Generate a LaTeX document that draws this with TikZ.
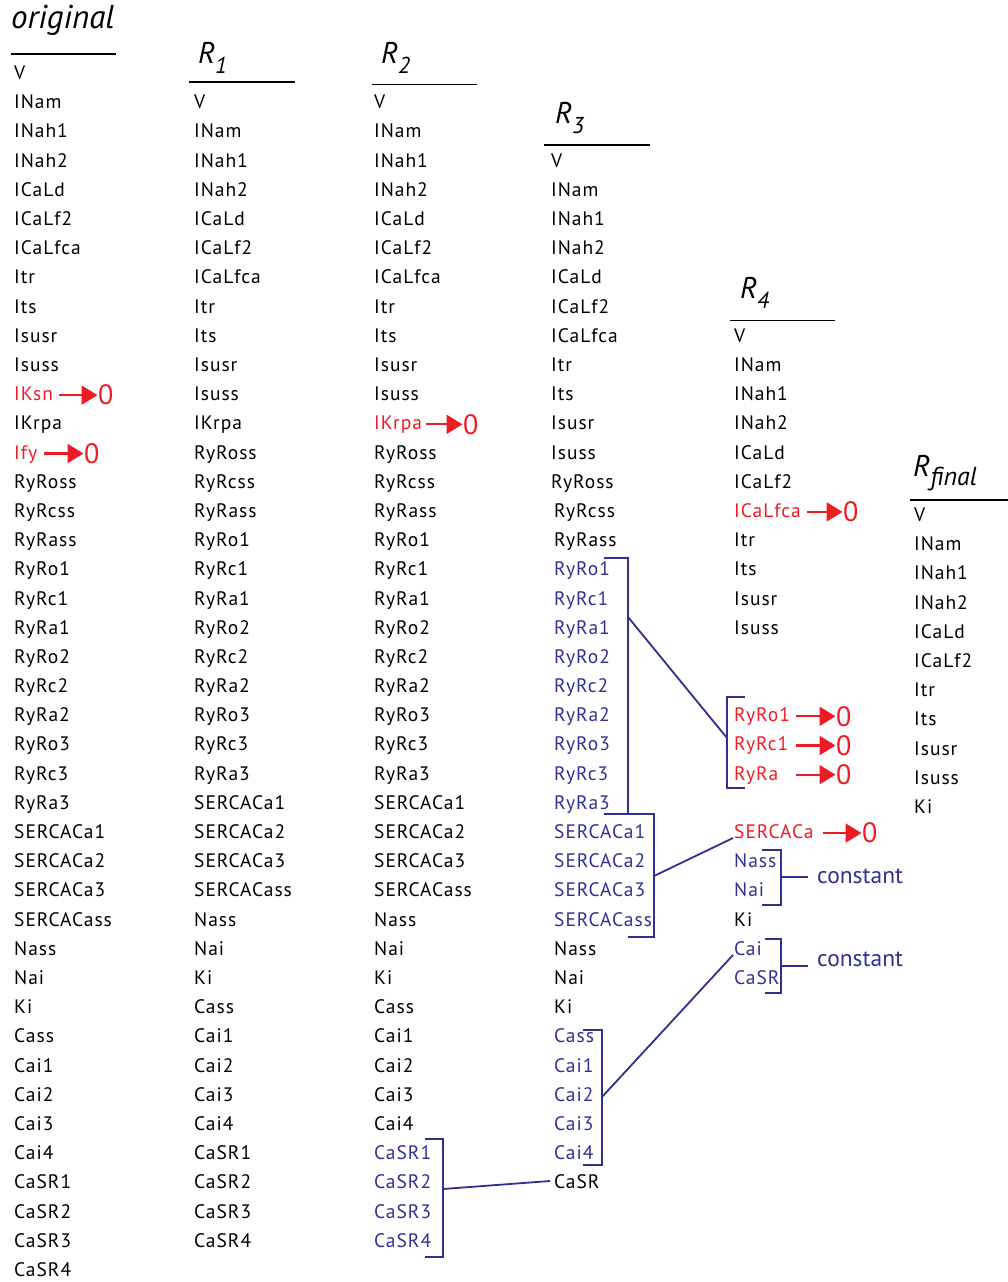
\documentclass[tikz,border=0pt]{standalone}
\usepackage{fontspec}
\setmainfont{PT Sans}
\newfontfamily\itemfont[LetterSpace=5]{PT Sans}
\usetikzlibrary{arrows.meta,calc}
\definecolor{myred}{RGB}{237,28,36}
\definecolor{myblue}{RGB}{46,49,146}
\tikzset{
  item/.style={anchor=base west, inner sep=0pt, font=\itemfont\fontsize{19.5}{21}\selectfont},
  hdr/.style={anchor=base west, inner sep=0pt, font=\fontsize{30}{32}\selectfont\itshape},
  hline/.style={line width=1.8pt},
  brk/.style={myblue, line width=1.8pt},
  zarrow/.style={myred, line width=2.2pt, -{Triangle[length=16pt,width=19pt]}},
  zero/.style={anchor=west, inner sep=0pt, text=myred, font=\fontsize{28}{30}\selectfont},
  cst/.style={anchor=base west, inner sep=0pt, text=myblue, font=\fontsize{23.5}{25}\selectfont},
}
\newcommand{\subhdr}[3]{\raisebox{-#1pt}{\fontsize{#3}{25}\selectfont\itshape #2}}
\begin{document}
\begin{tikzpicture}[x=1pt,y=-1pt]
\useasboundingbox (0,0) rectangle (1008,1282);

% headers
\node[hdr,font=\fontsize{33}{35}\selectfont\itshape] (hO) at (11,28) {original};
\draw[hline] (11,54) -- (116,54);
\node[hdr] (h1) at (198,63) {R\subhdr{10}{1}{23}};
\draw[hline] (189,82) -- (295,82);
\node[hdr] (h2) at (381,63) {R\subhdr{10}{2}{23}};
\draw[hline] (372,84.5) -- (477,84.5);
\node[hdr] (h3) at (555,123) {R\subhdr{10}{3}{23}};
\draw[hline] (544,145) -- (650,145);
\node[hdr] (h4) at (740,298) {R\subhdr{10}{4}{23}};
\draw[hline] (730,320.5) -- (835,320.5);
\node[hdr] (hf) at (913,476) {R\subhdr{9}{final}{26}};
\draw[hline] (910,500) -- (1010,500);

% original
\foreach \t/\c [count=\i from 0] in {V/black,INam/black,INah1/black,INah2/black,ICaLd/black,ICaLf2/black,ICaLfca/black,Itr/black,Its/black,Isusr/black,Isuss/black,IKsn/myred,IKrpa/black,Ify/myred,RyRoss/black,RyRcss/black,RyRass/black,RyRo1/black,RyRc1/black,RyRa1/black,RyRo2/black,RyRc2/black,RyRa2/black,RyRo3/black,RyRc3/black,RyRa3/black,SERCACa1/black,SERCACa2/black,SERCACa3/black,SERCACass/black,Nass/black,Nai/black,Ki/black,Cass/black,Cai1/black,Cai2/black,Cai3/black,Cai4/black,CaSR1/black,CaSR2/black,CaSR3/black,CaSR4/black}
  \node[item,text=\c] (o\i) at (14,{79.5+\i*29.195}) {\t};

% R1
\foreach \t/\c [count=\i from 1] in {V/black,INam/black,INah1/black,INah2/black,ICaLd/black,ICaLf2/black,ICaLfca/black,Itr/black,Its/black,Isusr/black,Isuss/black,IKrpa/black,RyRoss/black,RyRcss/black,RyRass/black,RyRo1/black,RyRc1/black,RyRa1/black,RyRo2/black,RyRc2/black,RyRa2/black,RyRo3/black,RyRc3/black,RyRa3/black,SERCACa1/black,SERCACa2/black,SERCACa3/black,SERCACass/black,Nass/black,Nai/black,Ki/black,Cass/black,Cai1/black,Cai2/black,Cai3/black,Cai4/black,CaSR1/black,CaSR2/black,CaSR3/black,CaSR4/black}
  \node[item,text=\c] (a\i) at (194,{79.5+\i*29.195}) {\t};

% R2
\foreach \t/\c [count=\i from 1] in {V/black,INam/black,INah1/black,INah2/black,ICaLd/black,ICaLf2/black,ICaLfca/black,Itr/black,Its/black,Isusr/black,Isuss/black,IKrpa/myred,RyRoss/black,RyRcss/black,RyRass/black,RyRo1/black,RyRc1/black,RyRa1/black,RyRo2/black,RyRc2/black,RyRa2/black,RyRo3/black,RyRc3/black,RyRa3/black,SERCACa1/black,SERCACa2/black,SERCACa3/black,SERCACass/black,Nass/black,Nai/black,Ki/black,Cass/black,Cai1/black,Cai2/black,Cai3/black,Cai4/black,CaSR1/myblue,CaSR2/myblue,CaSR3/myblue,CaSR4/myblue}
  \node[item,text=\c] (b\i) at (374,{79.5+\i*29.195}) {\t};

% R3
\foreach \t/\c/\dx [count=\i from 3] in {V/black/0,INam/black/0,INah1/black/0,INah2/black/0,ICaLd/black/0,ICaLf2/black/0,ICaLfca/black/0,Itr/black/0,Its/black/0,Isusr/black/0,Isuss/black/0,RyRoss/black/0,RyRcss/black/3,RyRass/black/3,RyRo1/myblue/3,RyRc1/myblue/3,RyRa1/myblue/3,RyRo2/myblue/3,RyRc2/myblue/3,RyRa2/myblue/3,RyRo3/myblue/3,RyRc3/myblue/3,RyRa3/myblue/3,SERCACa1/myblue/3,SERCACa2/myblue/3,SERCACa3/myblue/3,SERCACass/myblue/3,Nass/black/3,Nai/black/3,Ki/black/3,Cass/myblue/3,Cai1/myblue/3,Cai2/myblue/3,Cai3/myblue/3,Cai4/myblue/3,CaSR/black/3}
  \node[item,text=\c] (c\i) at ({551+\dx},{79.5+\i*29.195}) {\t};

% R4
\foreach \t/\c [count=\i from 9] in {V/black,INam/black,INah1/black,INah2/black,ICaLd/black,ICaLf2/black,ICaLfca/myred,Itr/black,Its/black,Isusr/black,Isuss/black}
  \node[item,text=\c] (d\i) at (734,{79.5+\i*29.195}) {\t};
\foreach \r/\t/\c in {22/RyRo1/myred,23/RyRc1/myred,24/RyRa/myred,26/SERCACa/myred,27/Nass/myblue,28/Nai/myblue,29/Ki/black,30/Cai/myblue,31/CaSR/myblue}
  \node[item,text=\c] (d\r) at (734,{79.5+\r*29.195}) {\t};

% Rfinal
\foreach \t [count=\i from 0] in {V,INam,INah1,INah2,ICaLd,ICaLf2,Itr,Its,Isusr,Isuss,Ki}
  \node[item] (f\i) at (914,{521.5+\i*29.195}) {\t};

% zeros and arrows
\node[zero] (zo11) at (98,{74+11*29.195}) {0};
\node[zero] (zo13) at (84,{74+13*29.195}) {0};
\node[zero] (zb12) at (463,{74+12*29.195}) {0};
\node[zero] (zd15) at (843,{74+15*29.195}) {0};
\node[zero] (zd22) at (836,{74+22*29.195}) {0};
\node[zero] (zd23) at (836,{74+23*29.195}) {0};
\node[zero] (zd24) at (836,{74+24*29.195}) {0};
\node[zero] (zd26) at (862,{74+26*29.195}) {0};
\draw[zarrow] ($(zo11.west -| o11.east)+(6,0)$) -- ($(zo11.west)+(-0.5,0)$);
\draw[zarrow] ($(zo13.west -| o13.east)+(7,0)$) -- ($(zo13.west)+(-0.5,0)$);
\draw[zarrow] ($(zb12.west -| b12.east)+(4,0)$) -- ($(zb12.west)+(-0.5,0)$);
\draw[zarrow] ($(zd15.west -| d15.east)+(6,0)$) -- ($(zd15.west)+(-0.5,0)$);
\draw[zarrow] ($(zd22.west -| d22.east)+(6,0)$) -- ($(zd22.west)+(-0.5,0)$);
\draw[zarrow] ($(zd23.west -| d22.east)+(6,0)$) -- ($(zd23.west)+(-0.5,0)$);
\draw[zarrow] ($(zd24.west -| d22.east)+(6,0)$) -- ($(zd24.west)+(-0.5,0)$);
\draw[zarrow] ($(zd26.west -| d26.east)+(9,0)$) -- ($(zd26.west)+(-0.5,0)$);

% brackets
\draw[brk] (604,558) -- (628,558) -- (628,814);
\coordinate (bRyR) at (628,617);
\draw[brk] (604,814) -- (654,814) -- (654,937) -- (628,937);
\coordinate (bSER) at (654,876);
\draw[brk] (745,697) -- (727,697) -- (727,788) -- (745,788);
\coordinate (bRyR4) at (727,738);
\coordinate (bSER4) at (733,838);
\draw[brk] (762,850) -- (781,850) -- (781,905) -- (762,905);
\coordinate (bNa) at (781,877);
\draw[brk] (765,939) -- (781,939) -- (781,993) -- (765,993);
\coordinate (bCa4) at (781,966);
\coordinate (bCai4) at (733,955);
\draw[brk] (583,1030) -- (602,1030) -- (602,1165) -- (583,1165);
\coordinate (bCai3) at (602,1097);
\draw[brk] (425,1139) -- (443,1139) -- (443,1257) -- (425,1257);
\coordinate (bCaSR2) at (443,1189);
\coordinate (bCaSR3) at (550,1181);

\node[cst] (k1) at (817,883) {constant};
\node[cst] (k2) at (817,966) {constant};

% connectors
\draw[brk] (bRyR) -- (bRyR4);
\draw[brk] (bSER) -- (bSER4);
\draw[brk] (bNa) -- ($(k1.west |- bNa)+(-9,0)$);
\draw[brk] (bCa4) -- ($(k2.west |- bCa4)+(-9,0)$);
\draw[brk] (bCai3) -- (bCai4);
\draw[brk] (bCaSR2) -- (bCaSR3);
\end{tikzpicture}
\end{document}
